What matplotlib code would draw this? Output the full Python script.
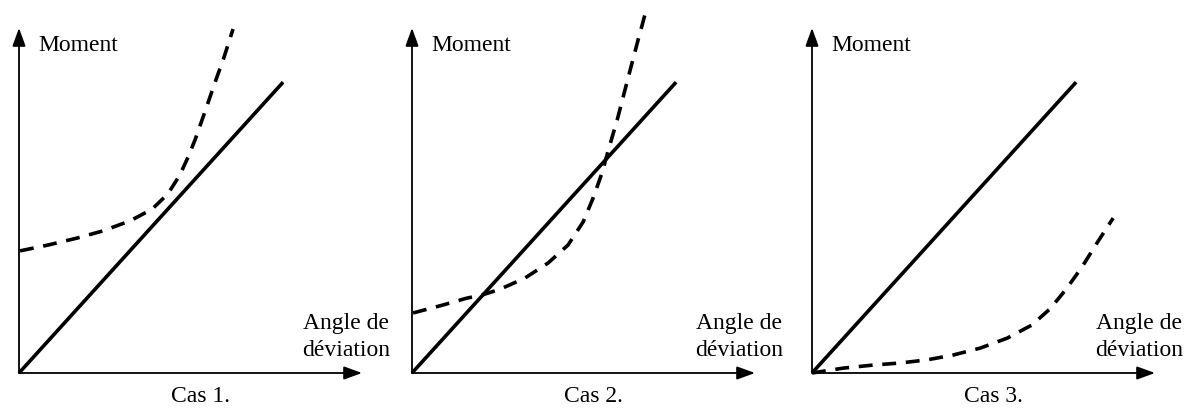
import matplotlib
matplotlib.use("Agg")
import matplotlib.pyplot as plt

plt.rcParams['font.family'] = ['Liberation Serif', 'DejaVu Serif']
plt.rcParams['lines.scale_dashes'] = False

# Data (in units where each axis arrow has length 100)
solid_x = [0, 77.0]
solid_y = [0, 84.3]

case1_dash_x = [0.3, 8.5, 16.9, 24.5, 32.4, 38.8, 43.4, 46.9, 49.3, 51.3, 54.2, 57.1, 59.8, 62.4]
case1_dash_y = [35.4, 37.1, 39.1, 41.2, 44.1, 47.5, 51.9, 57.4, 62.6, 67.5, 75.7, 84.1, 91.6, 99.7]

case2_dash_x = [0.3, 9.0, 16.0, 20.4, 25.7, 32.9, 39.7, 45.5, 49.9, 52.8, 55.4, 57.1, 59.8, 63.6, 65.9, 67.9]
case2_dash_y = [17.4, 19.7, 21.7, 22.6, 24.3, 27.5, 31.9, 37.1, 43.8, 50.7, 58.0, 64.1, 73.3, 87.8, 96.5, 103.8]

case3_dash_x = [0, 9.0, 17.8, 25.7, 33.5, 41.1, 49.0, 56.9, 64.1, 69.4, 74.1, 78.7, 83.1, 87.8]
case3_dash_y = [0, 1.4, 2.3, 2.9, 3.8, 5.2, 7.2, 10.1, 13.9, 18.6, 24.3, 30.7, 37.7, 44.9]

case_labels = ["Cas 1.", "Cas 2.", "Cas 3."]
y_label = "Moment"
x_label_lines = ["Angle de", "déviation"]

W, H = 1187, 408
fig = plt.figure(figsize=(W / 100, H / 100), dpi=100)

origins_px = [19, 412, 812]
origin_y_px = 373
axis_len_x = 343
axis_len_y = 345

dashes = [(case1_dash_x, case1_dash_y), (case2_dash_x, case2_dash_y), (case3_dash_x, case3_dash_y)]
FS = 17

for i, ox in enumerate(origins_px):
    ax = fig.add_axes([ox / W, (H - origin_y_px) / H, axis_len_x / W, axis_len_y / H])
    ax.set_xlim(0, 100)
    ax.set_ylim(0, 100)
    ax.axis('off')
    arrow = dict(arrowstyle='-|>,head_length=0.55,head_width=0.2', mutation_scale=20,
                 lw=1.3, color='black', shrinkA=0, shrinkB=0)
    ax.annotate('', xy=(100, 0), xytext=(0, 0), arrowprops=arrow, annotation_clip=False)
    ax.annotate('', xy=(0, 100), xytext=(0, 0), arrowprops=arrow, annotation_clip=False)
    ax.plot(solid_x, solid_y, color='black', lw=2.6, solid_capstyle='butt', clip_on=False)
    dx, dy = dashes[i]
    ax.plot(dx, dy, color='black', lw=2.6, dashes=[10, 7], dash_capstyle='butt',
            dash_joinstyle='round', clip_on=False)
    ax.text(5.5, 93.3, y_label, fontsize=FS, ha='left', va='baseline')
    ax.text(95.3, 12.8, x_label_lines[0], fontsize=FS, ha='center', va='baseline')
    ax.text(95.3, 4.9, x_label_lines[1], fontsize=FS, ha='center', va='baseline')
    ax.text(53, -8.4, case_labels[i], fontsize=FS, ha='center', va='baseline')

fig.savefig("out.png", dpi=100)
